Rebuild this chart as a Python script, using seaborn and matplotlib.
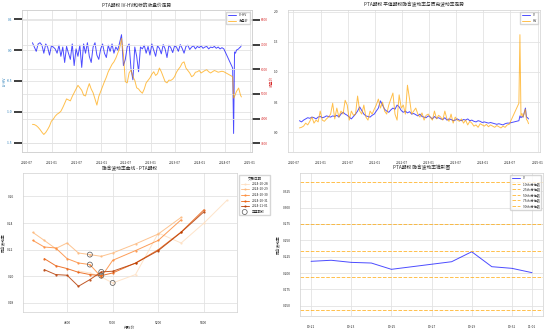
import numpy as np
import pandas as pd
import matplotlib
matplotlib.use("Agg")
import matplotlib.pyplot as plt
import matplotlib.dates as mdates
import seaborn as sns

# ---------------- data ----------------
main_start = '2020-08-10'          # biweekly observations start
main_count = 101
tail_dates = ['2024-06-24', '2024-08-28', '2024-09-04', '2024-09-11', '2024-09-18',
              '2024-09-25', '2024-10-11', '2024-10-18', '2024-10-25', '2024-11-01']

iv_hv = [0.12, 0.05, -0.02, 0.10, 0.12, 0.08, -0.05, 0.10, 0.05, -0.08, 0.07, 0.05, 0.02, -0.05, 0.08,
         -0.10, 0.05, -0.20, 0.06, -0.05, -0.15, 0.10, -0.25, 0.02, -0.10, 0.08, -0.28, 0.10, -0.05, 0.12, -0.10,
         -0.20, 0.05, 0.12, -0.08, -0.15, 0.02, 0.10, -0.05, -0.12, 0.08, -0.02, 0.10, -0.05, 0.05, 0.00, 0.12,
         0.25, -0.25, -0.15, 0.05, 0.10, -0.30, -0.48, 0.05, -0.10, -0.35, 0.05,
         0.02, 0.08, -0.05, 0.06, -0.08, 0.10, 0.00, -0.10, 0.07, 0.03, -0.06, 0.09, 0.02, -0.12, 0.08,
         0.04, -0.04, 0.07, 0.05, -0.02, 0.09, 0.03, -0.05, 0.06, 0.08, 0.01, 0.05, 0.07, 0.02, 0.06,
         0.04, 0.07, 0.03, 0.05, 0.06, 0.02, 0.05, 0.04, 0.06, 0.03, 0.05, 0.02, 0.04,
         0.02, -0.29, -1.35, -0.03, -0.05, 0.00, 0.02, 0.04, 0.05, 0.08]

close = [3770, 3760, 3720, 3650, 3560, 3450, 3360, 3440, 3560, 3700,
         3900, 3980, 4100, 4180, 4230, 4300, 4450, 4620, 4800, 4760,
         4720, 4900, 5050, 5200, 5350, 5250, 5150, 4950, 4920, 5200,
         5420, 5200, 5050, 4800, 4550, 4900, 5100, 5300, 5500, 5680,
         5900, 6050, 6200, 6300, 6450, 6650, 6850, 7250, 6600, 5500,
         5450, 5850, 5970, 5700, 5550, 5250, 5200, 5100, 5030, 5200,
         5450, 5550, 5650, 5800, 5900, 5750, 5820, 6050, 5900, 5700,
         5500, 5450, 5560, 5550, 5600, 5700, 5880, 6000, 6100, 6250,
         6300, 6050, 5950, 5850, 5700, 5750, 5880, 5900, 5950, 5850,
         5900, 5950, 5980, 5900, 5850, 5900, 5950, 5920, 5880, 5900, 5920,
         5900, 5700, 4830, 4900, 5000, 5100, 5240, 5100, 4950, 4880]

iv = [0.19, 0.17, 0.20, 0.22, 0.24, 0.23, 0.25, 0.24, 0.22, 0.25,
      0.26, 0.24, 0.25, 0.27, 0.26, 0.25, 0.27, 0.26, 0.28, 0.25,
      0.30, 0.33, 0.30, 0.28, 0.25, 0.22, 0.26, 0.30, 0.35, 0.42,
      0.36, 0.30, 0.27, 0.26, 0.25, 0.28, 0.30, 0.35, 0.40, 0.52,
      0.45, 0.38, 0.35, 0.33, 0.37, 0.40, 0.38, 0.45, 0.42, 0.36,
      0.33, 0.35, 0.32, 0.34, 0.30, 0.31, 0.29, 0.27, 0.30, 0.26,
      0.25, 0.24, 0.27, 0.25, 0.22, 0.26, 0.23, 0.24, 0.22, 0.21,
      0.24, 0.20, 0.22, 0.21, 0.19, 0.20, 0.22, 0.20, 0.19, 0.21,
      0.20, 0.22, 0.19, 0.20, 0.18, 0.17, 0.19, 0.18, 0.16, 0.17,
      0.16, 0.15, 0.16, 0.15, 0.14, 0.13, 0.14, 0.13, 0.12, 0.14, 0.15,
      0.15, 0.19, 0.27, 0.24, 0.26, 0.25, 0.40, 0.25, 0.24, 0.22]

hv = [0.07, 0.08, 0.10, 0.15, 0.12, 0.18, 0.25, 0.15, 0.20, 0.17,
      0.35, 0.20, 0.18, 0.22, 0.25, 0.30, 0.48, 0.22, 0.40, 0.25,
      0.35, 0.30, 0.53, 0.45, 0.20, 0.35, 0.28, 0.30, 0.60, 0.35,
      0.30, 0.45, 0.25, 0.20, 0.35, 0.30, 0.38, 0.45, 0.55, 0.40,
      0.50, 0.35, 0.30, 0.45, 0.55, 0.65, 0.30, 0.20, 0.62, 0.40,
      0.45, 0.30, 0.78, 0.55, 0.30, 0.35, 0.40, 0.30, 0.25, 0.32,
      0.20, 0.28, 0.30, 0.25, 0.20, 0.35, 0.22, 0.28, 0.25, 0.20,
      0.35, 0.22, 0.18, 0.30, 0.15, 0.25, 0.20, 0.18, 0.22, 0.15,
      0.20, 0.12, 0.18, 0.15, 0.10, 0.12, 0.08, 0.14, 0.12, 0.10,
      0.13, 0.09, 0.12, 0.10, 0.08, 0.11, 0.09, 0.07, 0.10, 0.08, 0.12,
      0.13, 0.48, 1.62, 0.27, 0.31, 0.25, 0.38, 0.21, 0.19, 0.14]

# smile curves
smile_dates = ['2024-10-28', '2024-10-29', '2024-10-30', '2024-10-31', '2024-11-01']
strikes_1028 = [4850, 4900, 4950, 5000, 5100, 5200, 5300, 5400, 5500]
iv_1028 = [0.204, 0.2025, 0.1995, 0.195, 0.2013, 0.2325, 0.225, 0.240, 0.257]
strikes_1029 = [4650, 4700, 4750, 4800, 4850, 4900, 4950, 5000, 5100, 5200, 5300]
iv_1029 = [0.233, 0.227, 0.2208, 0.225, 0.2175, 0.2163, 0.215, 0.2175, 0.2243, 0.2318, 0.2443]
strikes_1030 = [4650, 4700, 4750, 4800, 4850, 4900, 4950, 5000, 5100, 5200, 5300]
iv_1030 = [0.227, 0.222, 0.2213, 0.2133, 0.210, 0.2088, 0.1995, 0.212, 0.2193, 0.227, 0.2425]
strikes_1031 = [4700, 4750, 4800, 4850, 4900, 4950, 5000, 5100, 5200, 5300, 5400]
iv_1031 = [0.2133, 0.208, 0.2058, 0.203, 0.2013, 0.2005, 0.2025, 0.210, 0.220, 0.2333, 0.250]
strikes_1101 = [4700, 4750, 4800, 4850, 4900, 4950, 5000, 5100, 5200, 5300, 5400]
iv_1101 = [0.205, 0.2013, 0.2008, 0.1925, 0.1975, 0.2033, 0.2038, 0.2098, 0.2193, 0.233, 0.2485]
atm_strikes = [5000, 4900, 4900, 4950, 4950]
atm_iv = [0.195, 0.2163, 0.2088, 0.2005, 0.2033]

# cone chart
cone_dates = ['2024-10-21', '2024-10-22', '2024-10-23', '2024-10-24', '2024-10-25',
              '2024-10-28', '2024-10-29', '2024-10-30', '2024-10-31', '2024-11-01']
cone_iv = [0.218, 0.2196, 0.2164, 0.2154, 0.2058, 0.2174, 0.2326, 0.2098, 0.2073, 0.2007]
quantile_names = ['10th', '25th', '50th', '75th', '90th']
quantile_values = [0.1439, 0.1941, 0.2337, 0.2753, 0.3395]

# ---------------- style ----------------
sns.set_theme(style="whitegrid")
plt.rcParams['font.family'] = ['Noto Sans CJK SC', 'DejaVu Sans']
plt.rcParams.update({
    'axes.unicode_minus': False,
    'font.size': 2.4,
    'xtick.labelsize': 2.3,
    'ytick.labelsize': 2.3,
    'axes.titlesize': 3.4,
    'axes.labelsize': 2.7,
    'legend.fontsize': 2.3,
    'legend.title_fontsize': 2.5,
    'axes.linewidth': 0.5,
    'grid.linewidth': 0.6,
    'grid.color': '#e3e3e3',
    'axes.edgecolor': '#d0d0d0',
    'axes.titlepad': 2.5,
    'axes.labelpad': 0.6,
    'xtick.major.pad': 0.8,
    'ytick.major.pad': 0.8,
    'legend.handlelength': 2.6,
    'legend.borderpad': 0.5,
    'legend.labelspacing': 0.5,
})

dates_all = pd.date_range(main_start, periods=main_count, freq='14D').append(pd.to_datetime(tail_dates))
ts = pd.DataFrame({'date': dates_all, 'iv_hv': iv_hv, 'close': close, 'iv': iv, 'hv': hv})

fig = plt.figure(figsize=(5.5, 3.29), dpi=100)
ax1 = fig.add_axes([0.0400, 0.538, 0.418, 0.4316])
ax2 = fig.add_axes([0.5236, 0.538, 0.4582, 0.4316])
ax3 = fig.add_axes([0.0420, 0.0520, 0.388, 0.4220])
ax4 = fig.add_axes([0.5455, 0.0400, 0.4418, 0.4342])

lw = 0.7

# ---- top-left ----
sns.lineplot(data=ts, x='date', y='iv_hv', ax=ax1, color='blue', alpha=0.7, lw=lw, label='IV-HV', legend=False)
ax1b = ax1.twinx()
sns.lineplot(data=ts, x='date', y='close', ax=ax1b, color='orange', alpha=0.7, lw=lw, label='收盘价', legend=False)
ax1.set_ylim(-1.65, 0.65)
ax1b.set_ylim(2650, 8400)
ax1.set_yticks([-1.5, -1.0, -0.5, 0.0, 0.5])
ax1b.set_yticks([3000, 4000, 5000, 6000, 7000, 8000])
ax1.set_xlabel('')
ax1.set_ylabel('IV-HV', color='tab:blue')
ax1b.set_ylabel('收盘价', color='tab:red')
ax1.tick_params(axis='y', labelcolor='tab:blue')
ax1b.tick_params(axis='y', labelcolor='tab:red')
ax1.xaxis.set_major_locator(mdates.MonthLocator(bymonth=[1, 7]))
ax1.xaxis.set_major_formatter(mdates.DateFormatter('%Y-%m'))
ax1.set_title('PTA期权 IV-HV和标的收盘价走势')
h1, l1 = ax1.get_legend_handles_labels()
h2, l2 = ax1b.get_legend_handles_labels()
ax1b.legend(h1 + h2, l1 + l2, loc='upper right')

# ---- top-right ----
sns.lineplot(data=ts, x='date', y='iv', ax=ax2, color='blue', alpha=0.7, lw=lw, label='IV')
sns.lineplot(data=ts, x='date', y='hv', ax=ax2, color='orange', alpha=0.7, lw=lw, label='HV')
ax2.set_ylim(-0.33, 2.03)
ax2.set_yticks([0.0, 0.5, 1.0, 1.5, 2.0])
ax2.set_xlabel('')
ax2.set_ylabel('')
ax2.xaxis.set_major_locator(mdates.MonthLocator(bymonth=[1, 7]))
ax2.xaxis.set_major_formatter(mdates.DateFormatter('%Y-%m'))
ax2.set_title('PTA期权 平值期权隐含波动率与历史波动率走势')
ax2.legend(loc='upper right')

# ---- bottom-left ----
smile = pd.concat([
    pd.DataFrame({'strike': s, 'iv': v, 'date': d})
    for s, v, d in [(strikes_1028, iv_1028, smile_dates[0]), (strikes_1029, iv_1029, smile_dates[1]),
                    (strikes_1030, iv_1030, smile_dates[2]), (strikes_1031, iv_1031, smile_dates[3]),
                    (strikes_1101, iv_1101, smile_dates[4])]
], ignore_index=True)
pal = sns.color_palette('Oranges', len(smile_dates))
sns.lineplot(data=smile, x='strike', y='iv', hue='date', hue_order=smile_dates, palette=pal,
             marker='o', markersize=1.6, markeredgewidth=0, lw=lw, alpha=0.85, ax=ax3, estimator=None)
ax3.scatter(atm_strikes, atm_iv, s=13, facecolors='none', edgecolors='#555555', linewidths=0.5,
            label='平值期权', zorder=5)
all_iv = iv_1028 + iv_1029 + iv_1030 + iv_1031 + iv_1101
ax3.set_ylim(min(all_iv) * 0.9, max(all_iv) * 1.08)
ax3.set_yticks([0.18, 0.20, 0.22, 0.24, 0.26])
ax3.set_xticks([4800, 5000, 5200, 5400])
ax3.set_xlabel('行权价')
ax3.set_ylabel('隐含波动率')
ax3.set_title('隐含波动率曲线 - PTA期权')
ax3.legend(title='交易日期', loc='upper left', bbox_to_anchor=(1.004, 1.0))

# ---- bottom-right ----
cone = pd.DataFrame({'date': pd.to_datetime(cone_dates), 'iv': cone_iv})
sns.lineplot(data=cone, x='date', y='iv', ax=ax4, color='blue', alpha=0.7, lw=lw, label='IV')
for name, val in zip(quantile_names, quantile_values):
    ax4.axhline(val, color='orange', linestyle='--', lw=lw, alpha=0.7, label=f'{name} 分位数')
ax4.set_ylim(0.1348, 0.3528)
ax4.set_yticks([0.150, 0.175, 0.200, 0.225, 0.250, 0.275, 0.300, 0.325])
ax4.yaxis.set_major_formatter(matplotlib.ticker.FormatStrFormatter('%.3f'))
ax4.xaxis.set_major_locator(mdates.DayLocator(bymonthday=range(1, 32, 2)))
ax4.xaxis.set_major_formatter(mdates.DateFormatter('%m-%d'))
ax4.set_xlabel('')
ax4.set_ylabel('隐含波动率')
ax4.set_title('PTA期权 隐含波动率锥形图')
ax4.legend(loc='upper right')

fig.savefig('out.png', dpi=100)
